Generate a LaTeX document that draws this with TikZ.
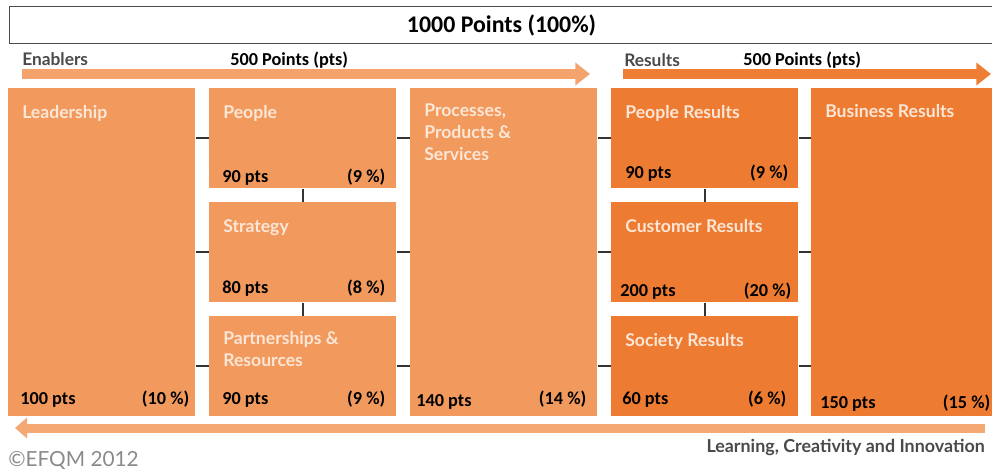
\documentclass[tikz,border=0pt]{standalone}
\usepackage{fontspec}
\setmainfont{Lato}
\newfontfamily\calibri{Carlito}
\usetikzlibrary{arrows.meta}
\definecolor{enab}{HTML}{F29A5D}
\definecolor{resl}{HTML}{EE7B32}
\definecolor{enabarrow}{HTML}{F3A36B}
\definecolor{resarrow}{HTML}{EF7E35}
\definecolor{learnarrow}{HTML}{F4A873}
\definecolor{labwhite}{HTML}{FCE6D6}
\definecolor{inkgray}{HTML}{4A4A4A}
\definecolor{copygray}{HTML}{8A8A8A}
\definecolor{tickgray}{HTML}{333333}

\tikzset{
  box/.style={inner sep=0pt, anchor=north west, minimum width=140.25pt, minimum height=75pt, fill=enab},
  tallbox/.style={box, minimum height=246pt},
  resbox/.style={box, fill=resl},
  title/.style={anchor=north west, inner sep=0pt, align=left, text=labwhite,
    font=\fontsize{13.2}{16.5}\selectfont\bfseries},
  pts/.style={inner sep=0pt, text=black, font=\calibri\bfseries\fontsize{13.7}{16}\selectfont},
  head/.style={inner sep=0pt, anchor=base west, text=inkgray, font=\fontsize{13}{15}\selectfont\bfseries},
  tick/.style={draw=tickgray, line width=1.5pt},
  band/.style={line width=7.5pt, -{Triangle[length=11pt, width=16.5pt]}}
}

\begin{document}
\begin{tikzpicture}[x=0.75pt, y=-0.75pt]
\useasboundingbox (0,0) rectangle (992,471);

% total
\node[draw=inkgray, line width=0.8pt, anchor=north west, minimum width=738pt, minimum height=27.75pt,
  font=\calibri\bfseries\fontsize{17.9}{20}\selectfont] (total) at (9,6) {1000 Points (100\%)};

% enablers and results bands
\node[head] (enlab) at (22,65.5) {Enablers};
\node[pts, anchor=base west] (enpts) at (230,65.5) {500 Points (pts)};
\node[head] (reslab) at (624,66) {Results};
\node[pts, anchor=base west] (respts) at (743,65.5) {500 Points (pts)};
\coordinate (ens) at (22,74);
\coordinate (ene) at (590,74);
\coordinate (ress) at (623,74);
\coordinate (rese) at (991,74);
\draw[band, enabarrow] (ens) -- (ene);
\draw[band, resarrow] (ress) -- (rese);

% criteria boxes
\node[tallbox] (lead) at (8,88) {};
\node[box] (ppl) at (209,88) {};
\node[box] (str) at (209,202) {};
\node[box] (prt) at (209,316) {};
\node[tallbox] (proc) at (410,88) {};
\node[resbox] (pres) at (611,88) {};
\node[resbox] (cres) at (611,202) {};
\node[resbox] (sres) at (611,316) {};
\node[tallbox, fill=resl, minimum width=135.75pt] (bres) at (811,88) {};

% connectors
\draw[tick] (lead.east |- ppl.west) -- (ppl.west);
\draw[tick] (lead.east |- str.west) -- (str.west);
\draw[tick] (lead.east |- prt.west) -- (prt.west);
\draw[tick] (ppl.east) -- (proc.west |- ppl.east);
\draw[tick] (str.east) -- (proc.west |- str.east);
\draw[tick] (prt.east) -- (proc.west |- prt.east);
\draw[tick] (proc.east |- pres.west) -- (pres.west);
\draw[tick] (proc.east |- cres.west) -- (cres.west);
\draw[tick] (proc.east |- sres.west) -- (sres.west);
\draw[tick] (pres.east) -- (bres.west |- pres.east);
\draw[tick] (cres.east) -- (bres.west |- cres.east);
\draw[tick] (sres.east) -- (bres.west |- sres.east);
\draw[tick] (ppl.south) -- (str.north);
\draw[tick] (str.south) -- (prt.north);
\draw[tick] (pres.south) -- (cres.north);
\draw[tick] (cres.south) -- (sres.north);

% titles
\node[title] at ([shift={(14,17)}]lead.north west) {Leadership};
\node[title] at ([shift={(14,17)}]ppl.north west) {People};
\node[title] at ([shift={(14,17)}]str.north west) {Strategy};
\node[title] at ([shift={(14,15)}]prt.north west) {Partnerships \&\\Resources};
\node[title] at ([shift={(14,16)}]proc.north west) {Processes,\\Products \&\\Services};
\node[title] at ([shift={(14,17)}]pres.north west) {People Results};
\node[title] at ([shift={(14,17)}]cres.north west) {Customer Results};
\node[title] at ([shift={(14,17)}]sres.north west) {Society Results};
\node[title] at ([shift={(14,16)}]bres.north west) {Business Results};

% points
\node[pts, anchor=base west] at ([shift={(12,-12)}]lead.south west) {100 pts};
\node[pts, anchor=base east] at ([shift={(-6,-12)}]lead.south east) {(10 \%)};
\node[pts, anchor=base west] at ([shift={(13,-6)}]ppl.south west) {90 pts};
\node[pts, anchor=base east] at ([shift={(-11,-6)}]ppl.south east) {(9 \%)};
\node[pts, anchor=base west] at ([shift={(13,-9)}]str.south west) {80 pts};
\node[pts, anchor=base east] at ([shift={(-11,-9)}]str.south east) {(8 \%)};
\node[pts, anchor=base west] at ([shift={(13,-12)}]prt.south west) {90 pts};
\node[pts, anchor=base east] at ([shift={(-11,-12)}]prt.south east) {(9 \%)};
\node[pts, anchor=base west] at ([shift={(6,-10)}]proc.south west) {140 pts};
\node[pts, anchor=base east] at ([shift={(-11,-12)}]proc.south east) {(14 \%)};
\node[pts, anchor=base west] at ([shift={(14,-10)}]pres.south west) {90 pts};
\node[pts, anchor=base east] at ([shift={(-10,-10)}]pres.south east) {(9 \%)};
\node[pts, anchor=base west] at ([shift={(9,-6)}]cres.south west) {200 pts};
\node[pts, anchor=base east] at ([shift={(-7,-6)}]cres.south east) {(20 \%)};
\node[pts, anchor=base west] at ([shift={(11,-12)}]sres.south west) {60 pts};
\node[pts, anchor=base east] at ([shift={(-12,-12)}]sres.south east) {(6 \%)};
\node[pts, anchor=base west] at ([shift={(9,-8)}]bres.south west) {150 pts};
\node[pts, anchor=base east] at ([shift={(-2,-8)}]bres.south east) {(15 \%)};

% learning band
\coordinate (lrs) at (985,428);
\coordinate (lre) at (15,428);
\draw[learnarrow, line width=6.75pt, -{Triangle[length=9pt, width=15pt]}] (lrs) -- (lre);
\node[head, anchor=base east, font=\fontsize{13.4}{15}\selectfont\bfseries] (learn) at (985,452) {Learning, Creativity and Innovation};
\node[inner sep=0pt, anchor=base west, text=copygray, font=\fontsize{15.6}{18}\selectfont] (efqm) at (8,466) {©EFQM 2012};
\end{tikzpicture}
\end{document}
